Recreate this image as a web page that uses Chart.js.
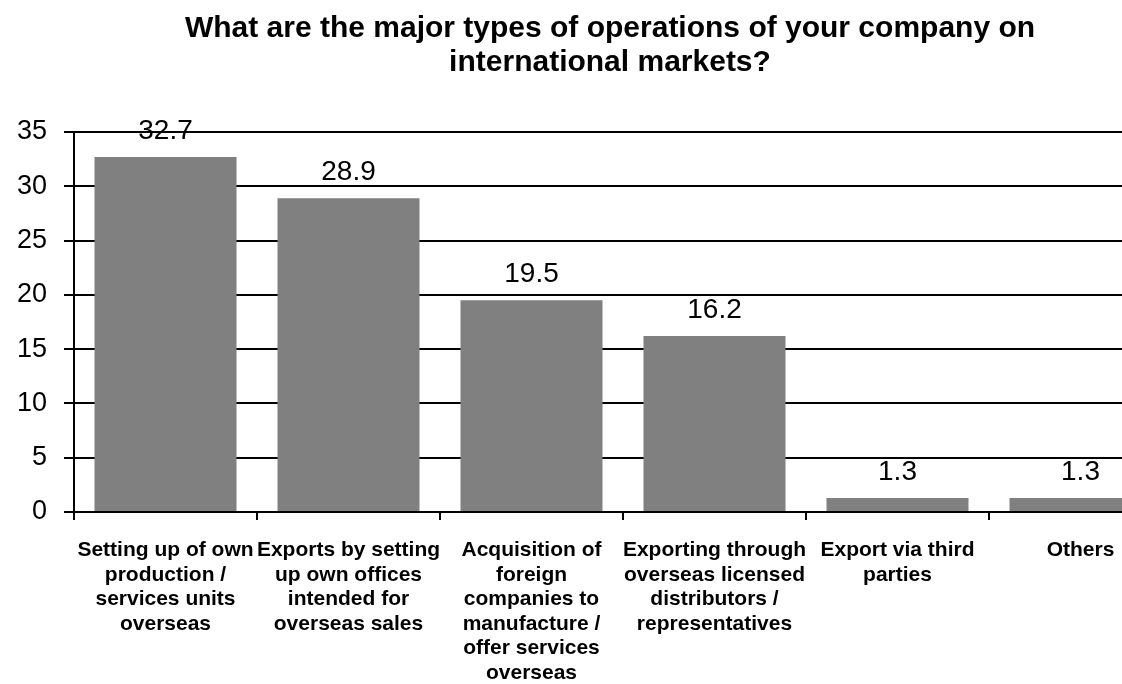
<!DOCTYPE html>
<html>
<head>
<meta charset="utf-8">
<script src="https://cdn.jsdelivr.net/npm/chart.js@4.4.1/dist/chart.umd.min.js"></script>
<style>
html,body{margin:0;padding:0;overflow:hidden;background:#fff;}
#wrap{width:1220px;height:684px;position:relative;}
</style>
</head>
<body>
<div id="wrap"><canvas id="c"></canvas></div>
<script>
const titleLines = ["What are the major types of operations of your company on", "international markets?"];
const categories = [
  ["Setting up of own", "production /", "services units", "overseas"],
  ["Exports by setting", "up own offices", "intended for", "overseas sales"],
  ["Acquisition of", "foreign", "companies to", "manufacture /", "offer services", "overseas"],
  ["Exporting through", "overseas licensed", "distributors /", "representatives"],
  ["Export via third", "parties"],
  ["Others"]
];
const values = [32.7, 28.9, 19.5, 16.2, 1.3, 1.3];
const yTicks = [0, 5, 10, 15, 20, 25, 30, 35];

const FONT = "'Liberation Sans', Arial, sans-serif";

const valueLabels = {
  id: 'valueLabels',
  afterDatasetsDraw(chart) {
    const ctx = chart.ctx;
    const meta = chart.getDatasetMeta(0);
    ctx.save();
    ctx.font = "28px " + FONT;
    ctx.fillStyle = "#000";
    ctx.textAlign = "center";
    ctx.textBaseline = "alphabetic";
    meta.data.forEach((bar, i) => {
      ctx.fillText(values[i].toFixed(1), bar.x, bar.y - 18);
    });
    ctx.restore();
  }
};

const centeredTitle = {
  id: 'centeredTitle',
  afterDraw(chart) {
    const ctx = chart.ctx;
    ctx.save();
    ctx.font = "bold 30px " + FONT;
    ctx.fillStyle = "#000";
    ctx.textAlign = "center";
    ctx.textBaseline = "middle";
    const cx = chart.width / 2;
    titleLines.forEach((t, i) => {
      ctx.fillText(t, cx, 29 + i * 34);
    });
    ctx.restore();
  }
};

new Chart(document.getElementById('c'), {
  type: 'bar',
  data: {
    labels: categories,
    datasets: [{
      data: values,
      backgroundColor: '#808080',
      borderWidth: 0,
      categoryPercentage: 1.0,
      barPercentage: 0.776
    }]
  },
  plugins: [valueLabels, centeredTitle],
  options: {
    responsive: true,
    maintainAspectRatio: false,
    animation: false,
    layout: { padding: { left: 0, right: 48, top: 132, bottom: 0 } },
    plugins: {
      legend: { display: false },
      tooltip: { enabled: false },
      title: { display: false }
    },
    scales: {
      x: {
        offset: true,
        grid: {
          display: true,
          offset: true,
          drawOnChartArea: false,
          drawTicks: true,
          tickLength: 8,
          color: '#000',
          lineWidth: 2
        },
        border: { display: true, color: '#000', width: 2 },
        ticks: {
          color: '#000',
          font: { family: FONT, size: 21, weight: 'bold', lineHeight: 1.17 },
          maxRotation: 0,
          minRotation: 0,
          autoSkip: false,
          padding: 18
        },
        afterFit(scale) { scale.height = 172; }
      },
      y: {
        min: 0,
        max: 35,
        afterBuildTicks(scale) { scale.ticks = yTicks.map(v => ({ value: v })); },
        grid: {
          color: '#000',
          lineWidth: 2,
          drawTicks: true,
          tickLength: 10
        },
        border: { display: true, color: '#000', width: 2 },
        ticks: {
          color: '#000',
          font: { family: FONT, size: 27 },
          padding: 17
        },
        afterFit(scale) { scale.width = 74; }
      }
    }
  }
});
</script>
</body>
</html>
